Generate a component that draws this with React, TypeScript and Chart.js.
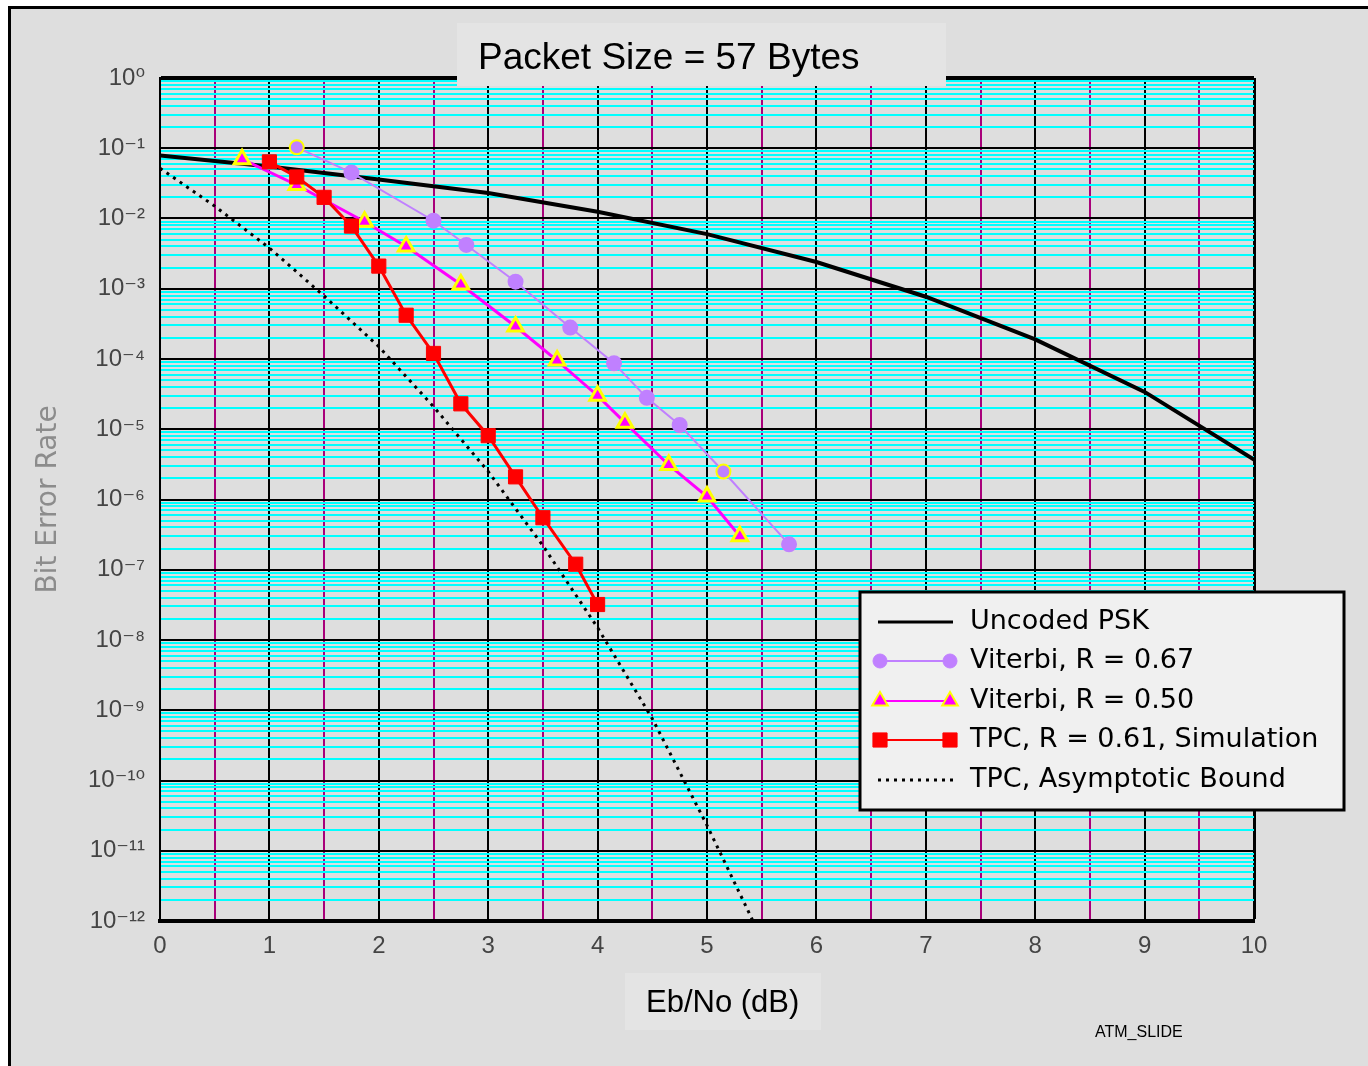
import React, { useEffect, useRef } from 'react';
import { Chart, registerables } from 'chart.js';

Chart.register(...registerables);

const W = 1368;
const H = 1066;

// ---------------- text ----------------
const TITLE = 'Packet Size = 57 Bytes';
const X_TITLE = 'Eb/No (dB)';
const Y_TITLE = 'Bit Error Rate';
const FOOTNOTE = 'ATM_SLIDE';
const legendLabels = [
  'Uncoded PSK',
  'Viterbi, R = 0.67',
  'Viterbi, R = 0.50',
  'TPC, R = 0.61, Simulation',
  'TPC, Asymptotic Bound',
];

// ---------------- ticks ----------------
const xMajorTicks = [0, 1, 2, 3, 4, 5, 6, 7, 8, 9, 10];
const xTickLabels = ['0', '1', '2', '3', '4', '5', '6', '7', '8', '9', '10'];
const xMinorTicks = [0.5, 1.5, 2.5, 3.5, 4.5, 5.5, 6.5, 7.5, 8.5, 9.5];
const yDecadeExponents = [-12, -11, -10, -9, -8, -7, -6, -5, -4, -3, -2, -1, 0];
const yMinorMultipliers = [2, 3, 4, 5, 6, 7, 8, 9];

// ---------------- series ----------------
const uncodedX = [0, 1, 2, 3, 4, 5, 6, 7, 8, 9, 10];
const uncodedY = [7.9e-2, 5.5e-2, 3.6e-2, 2.3e-2, 1.25e-2, 6.0e-3, 2.4e-3, 7.7e-4, 1.9e-4, 3.4e-5, 3.7e-6];

const vit67X = [1.25, 1.75, 2.5, 2.8, 3.25, 3.75, 4.15, 4.45, 4.75, 5.15, 5.75];
const vit67Y = [1.03e-1, 4.5e-2, 9.3e-3, 4.2e-3, 1.26e-3, 2.8e-4, 8.7e-5, 2.8e-5, 1.15e-5, 2.5e-6, 2.3e-7];

const vit50X = [0.75, 1.25, 1.87, 2.25, 2.75, 3.25, 3.63, 4.0, 4.25, 4.65, 5.0, 5.3];
const vit50Y = [7.0e-2, 3.0e-2, 9.0e-3, 4.0e-3, 1.15e-3, 2.9e-4, 9.5e-5, 3.0e-5, 1.24e-5, 3.1e-6, 1.1e-6, 3.0e-7];

const tpcX = [1.0, 1.25, 1.5, 1.75, 2.0, 2.25, 2.5, 2.75, 3.0, 3.25, 3.5, 3.8, 4.0];
const tpcY = [6.4e-2, 3.9e-2, 2.0e-2, 7.8e-3, 2.1e-3, 4.2e-4, 1.2e-4, 2.3e-5, 8.1e-6, 2.1e-6, 5.5e-7, 1.2e-7, 3.2e-8];

const boundX = [0, 0.5, 1, 1.5, 2, 2.5, 3, 3.5, 4, 4.5, 5, 5.42];
const boundY = [5.2e-2, 1.5e-2, 3.8e-3, 7.9e-4, 1.5e-4, 2.1e-5, 2.5e-6, 2.2e-7, 1.5e-8, 7.6e-10, 2.3e-11, 1e-12];

// ---------------- styles ----------------
const BG = '#dedede';
const BOX_BG = '#e4e4e4';
const LEGEND_BG = '#f0f0f0';
const CYAN = '#00ffff';
const HALF_GRID = '#a8007a';
const LAVENDER = '#c080ff';
const MAGENTA = '#ff00ff';
const YELLOW = '#ffff00';
const RED = '#ff0000';
const vit67Highlighted = [0, 9];

const SUP: Record<string, string> = {
  '0': '\u2070', '1': '\u00b9', '2': '\u00b2', '3': '\u00b3', '4': '\u2074',
  '5': '\u2075', '6': '\u2076', '7': '\u2077', '8': '\u2078', '9': '\u2079', '-': '\u207b',
};
const toSup = (n: number) => String(n).split('').map((c) => SUP[c] || c).join('');

const pts = (xs: number[], ys: number[]) => xs.map((x, i) => ({ x, y: ys[i] }));

type MarkerKind = 'none' | 'circle' | 'triangle' | 'rect';

function drawMarker(ctx: CanvasRenderingContext2D, kind: MarkerKind, x: number, y: number, fill: string, stroke: string, lw: number, r: number) {
  if (kind === 'none') return;
  ctx.save();
  ctx.fillStyle = fill;
  ctx.strokeStyle = stroke;
  ctx.lineWidth = lw;
  ctx.beginPath();
  if (kind === 'circle') {
    ctx.arc(x, y, r, 0, Math.PI * 2);
  } else if (kind === 'triangle') {
    const a = -Math.PI / 2;
    for (let k = 0; k < 3; k++) {
      const ang = a + (k * 2 * Math.PI) / 3;
      const px = x + Math.cos(ang) * r;
      const py = y + Math.sin(ang) * r;
      if (k === 0) ctx.moveTo(px, py);
      else ctx.lineTo(px, py);
    }
    ctx.closePath();
  } else if (kind === 'rect') {
    const s = r * Math.SQRT1_2;
    ctx.rect(x - s, y - s, 2 * s, 2 * s);
  }
  ctx.fill();
  if (lw > 0) ctx.stroke();
  ctx.restore();
}

const legendStyles: { color: string; width: number; dash: number[]; marker: MarkerKind; fill: string; stroke: string; mlw: number; r: number }[] = [
  { color: '#000', width: 3, dash: [], marker: 'none', fill: '', stroke: '', mlw: 0, r: 0 },
  { color: LAVENDER, width: 2, dash: [], marker: 'circle', fill: LAVENDER, stroke: LAVENDER, mlw: 1, r: 7 },
  { color: MAGENTA, width: 2, dash: [], marker: 'triangle', fill: MAGENTA, stroke: YELLOW, mlw: 2, r: 9 },
  { color: RED, width: 2, dash: [], marker: 'rect', fill: RED, stroke: RED, mlw: 1, r: 10 },
  { color: '#000', width: 3, dash: [3, 5], marker: 'none', fill: '', stroke: '', mlw: 0, r: 0 },
];

const decorPlugin = {
  id: 'decor',
  beforeDraw(chart: any) {
    const ctx: CanvasRenderingContext2D = chart.ctx;
    ctx.save();
    ctx.fillStyle = '#ffffff';
    ctx.fillRect(0, 0, W, H);
    ctx.fillStyle = BG;
    ctx.fillRect(11, 9, W - 11, H - 9);
    ctx.fillStyle = '#000';
    ctx.fillRect(8, 6, 3, H - 6);
    ctx.fillRect(8, 6, W - 8, 3);
    ctx.restore();
  },
  afterDraw(chart: any) {
    const ctx: CanvasRenderingContext2D = chart.ctx;
    ctx.save();
    // title box
    ctx.fillStyle = BOX_BG;
    ctx.fillRect(457, 23, 489, 63);
    ctx.fillStyle = '#000';
    ctx.font = '37px "Liberation Sans", Arial, sans-serif';
    ctx.textAlign = 'left';
    ctx.textBaseline = 'alphabetic';
    ctx.fillText(TITLE, 478, 69);

    // x title box
    ctx.fillStyle = BOX_BG;
    ctx.fillRect(625, 973, 196, 57);
    ctx.fillStyle = '#000';
    ctx.font = '31px "Liberation Sans", Arial, sans-serif';
    ctx.fillText(X_TITLE, 646, 1012);

    // footnote
    ctx.font = '16px "Liberation Sans", Arial, sans-serif';
    ctx.fillText(FOOTNOTE, 1095, 1037);

    // legend
    const lx = 860, ly = 592, lw = 484, lh = 218;
    ctx.fillStyle = LEGEND_BG;
    ctx.fillRect(lx, ly, lw, lh);
    ctx.strokeStyle = '#000';
    ctx.lineWidth = 3;
    ctx.strokeRect(lx, ly, lw, lh);
    const rows = [622, 661, 701, 740, 780];
    legendLabels.forEach((label, i) => {
      const s = legendStyles[i];
      const y = rows[i];
      ctx.save();
      ctx.strokeStyle = s.color;
      ctx.lineWidth = s.width;
      ctx.setLineDash(s.dash);
      ctx.beginPath();
      ctx.moveTo(878, y);
      ctx.lineTo(953, y);
      ctx.stroke();
      ctx.restore();
      drawMarker(ctx, s.marker, 880, y, s.fill, s.stroke, s.mlw, s.r);
      drawMarker(ctx, s.marker, 950, y, s.fill, s.stroke, s.mlw, s.r);
      ctx.fillStyle = '#000';
      ctx.font = '27px "DejaVu Sans", sans-serif';
      ctx.textAlign = 'left';
      ctx.textBaseline = 'middle';
      ctx.fillText(label, 970, y);
    });
    ctx.restore();
  },
};

export default function App() {
  const ref = useRef<HTMLCanvasElement>(null);

  useEffect(() => {
    const canvas = ref.current;
    if (!canvas) return;

    const chart = new Chart(canvas, {
      type: 'line',
      data: {
        datasets: [
          {
            label: legendLabels[0],
            data: pts(uncodedX, uncodedY),
            borderColor: '#000',
            borderWidth: 4,
            pointRadius: 0,
            order: 5,
          },
          {
            label: legendLabels[1],
            data: pts(vit67X, vit67Y),
            borderColor: LAVENDER,
            borderWidth: 2,
            pointStyle: 'circle',
            pointRadius: 7,
            pointBackgroundColor: LAVENDER,
            pointBorderColor: vit67X.map((_, i) => (vit67Highlighted.includes(i) ? YELLOW : LAVENDER)),
            pointBorderWidth: 2,
            order: 3,
          },
          {
            label: legendLabels[2],
            data: pts(vit50X, vit50Y),
            borderColor: MAGENTA,
            borderWidth: 3,
            pointStyle: 'triangle',
            pointRadius: 9,
            pointBackgroundColor: MAGENTA,
            pointBorderColor: YELLOW,
            pointBorderWidth: 3,
            order: 2,
          },
          {
            label: legendLabels[3],
            data: pts(tpcX, tpcY),
            borderColor: RED,
            borderWidth: 3,
            pointStyle: 'rect',
            pointRadius: 10,
            pointBackgroundColor: RED,
            pointBorderColor: RED,
            pointBorderWidth: 1,
            order: 1,
          },
          {
            label: legendLabels[4],
            data: pts(boundX, boundY),
            borderColor: '#000',
            borderWidth: 3,
            borderDash: [3, 5],
            pointRadius: 0,
            order: 4,
          },
        ],
      },
      options: {
        animation: false,
        responsive: false,
        devicePixelRatio: 1,
        events: [],
        layout: { padding: { left: 0, top: 78, right: 114, bottom: 0 } },
        elements: { line: { tension: 0 } },
        plugins: {
          legend: { display: false },
          title: { display: false },
          tooltip: { enabled: false },
        },
        scales: {
          x: {
            type: 'linear',
            position: 'bottom',
            min: 0,
            max: 10,
            afterBuildTicks: (scale: any) => {
              const t = [...xMajorTicks, ...xMinorTicks].sort((a, b) => a - b);
              scale.ticks = t.map((v) => ({ value: v, idx: xMajorTicks.indexOf(v) }));
            },
            afterFit: (scale: any) => {
              scale.height = 145;
            },
            grid: {
              drawTicks: false,
              z: -2,
              color: (c: any) => (c.tick && c.tick.idx < 0 ? HALF_GRID : '#000'),
              lineWidth: (c: any) => (c.tick && c.tick.value === 10 ? 3 : 2),
            },
            border: { display: true, color: '#000', width: 4 },
            ticks: {
              autoSkip: false,
              maxRotation: 0,
              padding: 11,
              color: '#444',
              font: { family: '"Liberation Sans", Arial, sans-serif', size: 24 },
              callback: (_v: any, i: number, ticks: any[]) => (ticks[i].idx >= 0 ? xTickLabels[ticks[i].idx] : ''),
            },
          },
          y: {
            type: 'logarithmic',
            position: 'left',
            min: 1e-12,
            max: 1,
            afterBuildTicks: (scale: any) => {
              const t: any[] = [];
              for (const e of yDecadeExponents) {
                t.push({ value: Math.pow(10, e), decade: true, exp: e });
                if (e < 0) {
                  for (const m of yMinorMultipliers) t.push({ value: m * Math.pow(10, e), decade: false });
                }
              }
              t.sort((a, b) => a.value - b.value);
              scale.ticks = t;
            },
            afterFit: (scale: any) => {
              scale.width = 160;
            },
            grid: {
              drawTicks: false,
              z: -1,
              color: (c: any) => (c.tick && c.tick.decade ? '#000' : CYAN),
              lineWidth: (c: any) => (c.tick && c.tick.value === 1 ? 4 : 2),
            },
            border: { display: true, color: '#000', width: 2 },
            title: {
              display: true,
              text: Y_TITLE,
              color: '#8c8c8c',
              font: { family: '"DejaVu Sans", sans-serif', size: 28 },
              padding: { top: 32, bottom: 0 },
            },
            ticks: {
              autoSkip: false,
              padding: 15,
              color: '#444',
              font: { family: '"Liberation Sans", "DejaVu Sans", Arial, sans-serif', size: 24 },
              callback: (_v: any, i: number, ticks: any[]) =>
                ticks[i].decade ? '10' + toSup(ticks[i].exp) : '',
            },
          },
        },
      } as any,
      plugins: [decorPlugin],
    });

    return () => {
      chart.destroy();
    };
  }, []);

  return (
    <canvas
      ref={ref}
      width={W}
      height={H}
      style={{ position: 'absolute', left: 0, top: 0, width: W, height: H, display: 'block' }}
    />
  );
}
